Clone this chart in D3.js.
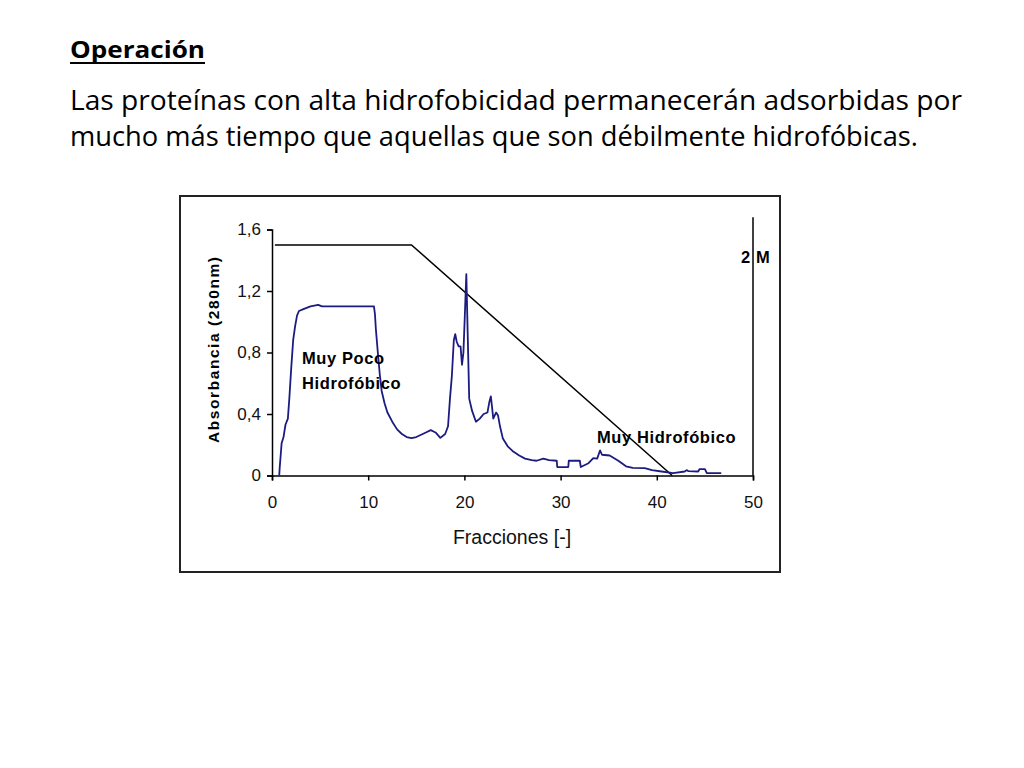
<!DOCTYPE html>
<html>
<head>
<meta charset="utf-8">
<script src="https://cdn.jsdelivr.net/npm/d3@7"></script>
<style>
  body { margin: 0; background: #fff; }
  svg { display: block; }
</style>
</head>
<body>
<div id="chart-area"></div>
<script>
// absorbance trace
var frac = [0.75, 0.8, 1.0, 1.2, 1.4, 1.65, 1.8, 2.0, 2.2, 2.4, 2.6, 2.8, 3.2, 3.6, 4.0, 4.4, 4.8, 5.2, 6.0,
    10.6, 10.7, 10.8, 11.0, 11.2, 11.4, 11.7, 12.0, 12.5, 13.0, 13.5, 14.0, 14.5, 15.0, 15.5, 16.0, 16.5,
    17.0, 17.5, 18.0, 18.3, 18.5, 18.7, 18.9, 19.05, 19.2, 19.4, 19.6, 19.75, 19.9, 20.05, 20.2, 20.35,
    20.5, 20.8, 21.2, 21.6, 22.0, 22.4, 22.6, 22.75, 22.9, 23.0, 23.3, 23.5, 23.7, 24.0, 24.5, 25.0,
    25.7, 26.3, 27.0, 27.5, 28.2, 28.8, 29.6, 29.65, 30.8, 30.85, 32.0, 32.1, 32.9, 33.4, 33.8, 34.1,
    34.3, 35.1, 36.0, 36.8, 37.5, 38.75, 39.5, 40.5, 41.7, 42.9, 43.1, 43.3, 44.3, 44.45, 45.0, 45.2, 46.7];
var absorb = [0, 0.05, 0.21, 0.25, 0.33, 0.37, 0.5, 0.7, 0.88, 0.97, 1.04, 1.07, 1.08, 1.09, 1.10, 1.105, 1.11, 1.10, 1.10,
    1.10, 1.05, 0.95, 0.80, 0.66, 0.55, 0.47, 0.41, 0.35, 0.30, 0.27, 0.25, 0.243, 0.25, 0.265, 0.28, 0.295,
    0.28, 0.245, 0.27, 0.32, 0.50, 0.65, 0.88, 0.92, 0.87, 0.84, 0.84, 0.72, 0.80, 1.05, 1.31, 0.9,
    0.50, 0.42, 0.35, 0.37, 0.40, 0.41, 0.48, 0.515, 0.43, 0.37, 0.41, 0.39, 0.32, 0.24, 0.19, 0.16,
    0.13, 0.11, 0.10, 0.096, 0.11, 0.10, 0.096, 0.055, 0.055, 0.096, 0.096, 0.055, 0.08, 0.113, 0.11, 0.163,
    0.135, 0.13, 0.096, 0.06, 0.05, 0.048, 0.035, 0.026, 0.016, 0.026, 0.035, 0.028, 0.026, 0.042, 0.042, 0.016, 0.016];

// salt gradient (drawn on the same axis)
var gradFrac = [0.3, 14.5, 41.6];
var gradVal = [1.5, 1.5, 0];

var xTicks = [0, 10, 20, 30, 40, 50];
var yTicks = [0, 0.4, 0.8, 1.2, 1.6];
var yTickLabels = ["0", "0,4", "0,8", "1,2", "1,6"];

var svg = d3.select("#chart-area").append("svg")
    .attr("width", 1024)
    .attr("height", 768);

// slide text
svg.append("text")
    .attr("x", 70).attr("y", 58)
    .attr("font-family", "Open Sans").attr("font-weight", "bold")
    .attr("font-size", 24)
    .attr("textLength", 135).attr("lengthAdjust", "spacingAndGlyphs")
    .text("Operación");
svg.append("line")
    .attr("x1", 70).attr("x2", 205).attr("y1", 63).attr("y2", 63)
    .attr("stroke", "#000").attr("stroke-width", 2);

var body = ["Las proteínas con alta hidrofobicidad permanecerán adsorbidas por",
    "mucho más tiempo que aquellas que son débilmente hidrofóbicas."];
var bodyWidth = [892, 848];
svg.selectAll(".body").data(body).enter().append("text")
    .attr("class", "body")
    .attr("x", 70)
    .attr("y", (d, i) => 110 + i * 36)
    .attr("font-family", "Open Sans")
    .attr("font-size", 27)
    .attr("textLength", (d, i) => bodyWidth[i])
    .attr("lengthAdjust", "spacingAndGlyphs")
    .text((d) => d);

// chart frame
svg.append("rect")
    .attr("x", 180).attr("y", 196)
    .attr("width", 600).attr("height", 376)
    .attr("fill", "#fff").attr("stroke", "#222").attr("stroke-width", 2);

var x = d3.scaleLinear().domain([0, 50]).range([272, 753]);
var y = d3.scaleLinear().domain([0, 1.6]).range([475.5, 229.5]);

var g = svg.append("g")
    .attr("font-family", "Liberation Sans, Arial, sans-serif");

var xAxis = g.append("g")
    .attr("transform", "translate(0," + y(0) + ")")
    .call(d3.axisBottom(x).tickValues(xTicks).tickSize(5).tickPadding(15).tickFormat(d3.format("d")));
var yAxis = g.append("g")
    .attr("transform", "translate(" + x(0) + ",0)")
    .call(d3.axisLeft(y).tickValues(yTicks).tickSize(5).tickPadding(6)
        .tickFormat((d, i) => yTickLabels[i]));

[xAxis, yAxis].forEach((a) => {
    a.attr("font-size", 17).attr("font-family", "Liberation Sans, Arial, sans-serif");
    a.select(".domain").attr("stroke", "#000").attr("stroke-width", 1.5);
    a.selectAll(".tick line").attr("stroke", "#000").attr("stroke-width", 1.5);
    a.selectAll(".tick text").attr("fill", "#111");
});

// right-hand 2 M marker line
g.append("line")
    .attr("x1", x(50)).attr("x2", x(50))
    .attr("y1", y(0)).attr("y2", y(1.68))
    .attr("stroke", "#000").attr("stroke-width", 1.5);

var line = d3.line()
    .x((d) => x(d[0]))
    .y((d) => y(d[1]));

g.append("path")
    .datum(gradFrac.map((f, i) => [f, gradVal[i]]))
    .attr("d", line)
    .attr("fill", "none")
    .attr("stroke", "#000")
    .attr("stroke-width", 1.5);

g.append("path")
    .datum(frac.map((f, i) => [f, absorb[i]]))
    .attr("d", line)
    .attr("fill", "none")
    .attr("stroke", "#1c1c80")
    .attr("stroke-width", 1.8)
    .attr("stroke-linejoin", "round");

// labels
g.append("text")
    .attr("x", 512).attr("y", 544)
    .attr("text-anchor", "middle")
    .attr("font-size", 19.5)
    .attr("fill", "#111")
    .text("Fracciones [-]");

g.append("text")
    .attr("transform", "translate(219,350) rotate(-90)")
    .attr("text-anchor", "middle")
    .attr("font-size", 15.5).attr("font-weight", "bold")
    .attr("textLength", 186).attr("lengthAdjust", "spacing")
    .text("Absorbancia (280nm)");

var notes = [
    { t: "Muy Poco", x: 302, y: 364 },
    { t: "Hidrofóbico", x: 302, y: 389 },
    { t: "Muy Hidrofóbico", x: 597, y: 443 },
    { t: "2 M", x: 741, y: 263 }
];
g.selectAll(".note").data(notes).enter().append("text")
    .attr("class", "note")
    .attr("x", (d) => d.x).attr("y", (d) => d.y)
    .attr("font-size", 16.5).attr("font-weight", "bold")
    .attr("letter-spacing", 0.6)
    .text((d) => d.t);
</script>
</body>
</html>
